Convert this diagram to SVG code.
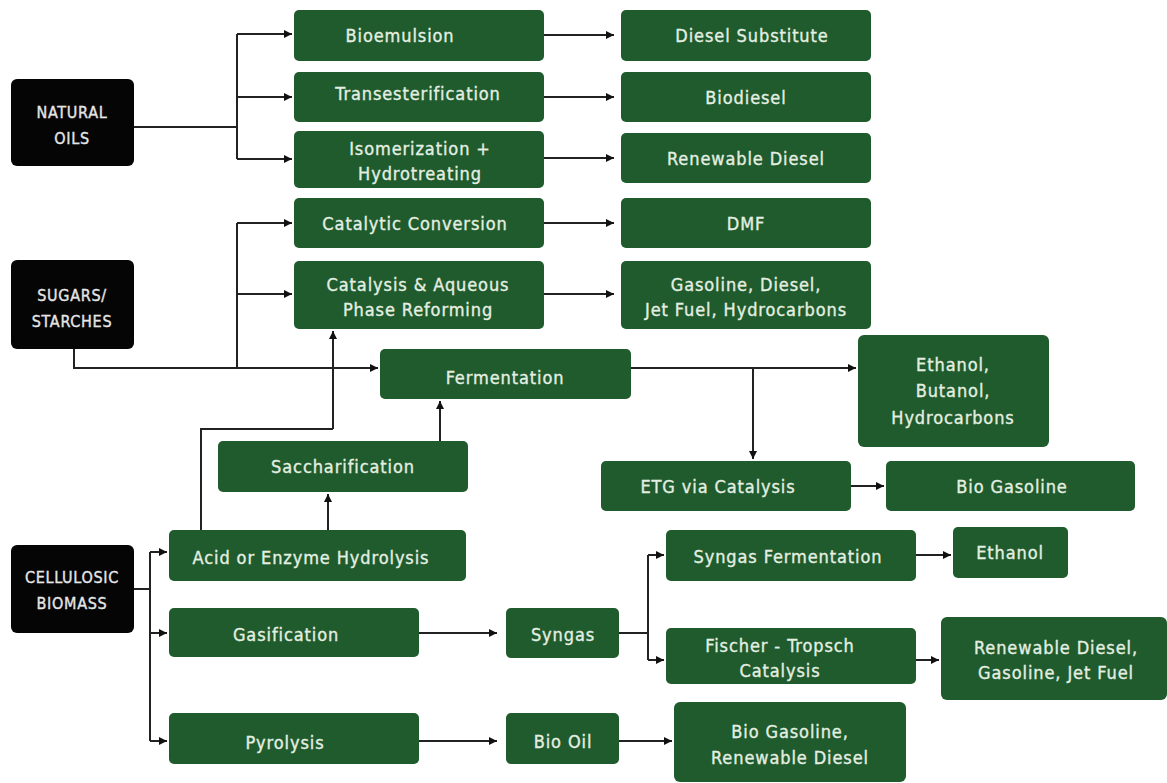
<svg xmlns="http://www.w3.org/2000/svg" width="1167" height="783" viewBox="0 0 1167 783">
<defs>
<marker id="ah" viewBox="0 0 10 10" refX="10" refY="5" markerWidth="8" markerHeight="8" markerUnits="userSpaceOnUse" orient="auto">
<path d="M0,0 L10,5 L0,10 z" fill="#111"/>
</marker>
<style>
.g{fill:#1f5b2c}
.k{fill:#050505}
.t{font-family:"DejaVu Sans Condensed","Liberation Sans Narrow","Liberation Sans",sans-serif;font-size:18px;font-weight:normal;fill:#e4efe2;text-anchor:middle;stroke:#e4efe2;stroke-width:0.35;letter-spacing:0.9px}
.tk{font-family:"DejaVu Sans Condensed","Liberation Sans Narrow","Liberation Sans",sans-serif;font-size:16px;font-weight:normal;fill:#e6e6e6;text-anchor:middle;stroke:#e6e6e6;stroke-width:0.35;letter-spacing:0.7px}
.c{fill:none;stroke:#222;stroke-width:2}
.a{fill:none;stroke:#222;stroke-width:2;marker-end:url(#ah)}
</style>
</defs>
<rect width="1167" height="783" fill="#fff"/>

<g id="connectors">
<path class="c" d="M134,127 H237"/>
<path class="c" d="M237,34 V159"/>
<path class="a" d="M237,34 H292"/>
<path class="a" d="M237,97 H292"/>
<path class="a" d="M237,159 H292"/>
<path class="a" d="M544,35 H614"/>
<path class="a" d="M544,97 H614"/>
<path class="a" d="M544,158 H614"/>
<path class="a" d="M544,223 H614"/>
<path class="a" d="M544,294 H614"/>
<path class="c" d="M74,349 V368 H237"/>
<path class="a" d="M237,368 H378"/>
<path class="c" d="M237,368 V223"/>
<path class="a" d="M237,223 H292"/>
<path class="a" d="M237,294 H292"/>
<path class="a" d="M631,368 H856"/>
<path class="a" d="M753,368 V459"/>
<path class="a" d="M851,486 H884"/>
<path class="c" d="M134,589 H150"/>
<path class="c" d="M150,552 V741"/>
<path class="a" d="M150,552 H167"/>
<path class="a" d="M150,633 H167"/>
<path class="a" d="M150,741 H167"/>
<path class="c" d="M201,530 V429 H333"/>
<path class="a" d="M333,429 V331"/>
<path class="a" d="M328,530 V494"/>
<path class="a" d="M440,441 V401"/>
<path class="a" d="M419,633 H497"/>
<path class="a" d="M419,741 H497"/>
<path class="c" d="M619,633 H648"/>
<path class="c" d="M648,555 V660"/>
<path class="a" d="M648,555 H664"/>
<path class="a" d="M648,660 H664"/>
<path class="a" d="M916,555 H951"/>
<path class="a" d="M916,660 H939"/>
<path class="a" d="M619,741 H672"/>
</g>

<g id="natural-oils"><rect class="k" x="11" y="79" width="123" height="87" rx="6"/><text class="tk" x="72" y="118">NATURAL</text><text class="tk" x="72" y="144">OILS</text></g>
<g id="sugars"><rect class="k" x="11" y="260" width="123" height="89" rx="6"/><text class="tk" x="72" y="301">SUGARS/</text><text class="tk" x="72" y="327">STARCHES</text></g>
<g id="cellulosic"><rect class="k" x="11" y="545" width="123" height="88" rx="6"/><text class="tk" x="72" y="583">CELLULOSIC</text><text class="tk" x="72" y="609">BIOMASS</text></g>

<g id="bioemulsion"><rect class="g" x="294" y="10" width="250" height="51" rx="5"/><text class="t" x="400" y="42">Bioemulsion</text></g>
<g id="transesterification"><rect class="g" x="294" y="72" width="250" height="50" rx="5"/><text class="t" x="418" y="100">Transesterification</text></g>
<g id="isomerization"><rect class="g" x="294" y="131" width="250" height="57" rx="5"/><text class="t" x="420" y="155">Isomerization +</text><text class="t" x="420" y="180">Hydrotreating</text></g>
<g id="catalytic-conversion"><rect class="g" x="294" y="198" width="250" height="50" rx="5"/><text class="t" x="415" y="230">Catalytic Conversion</text></g>
<g id="catalysis-aqueous"><rect class="g" x="294" y="261" width="250" height="68" rx="5"/><text class="t" x="418" y="291">Catalysis &amp; Aqueous</text><text class="t" x="418" y="316">Phase Reforming</text></g>

<g id="diesel-substitute"><rect class="g" x="621" y="10" width="250" height="51" rx="5"/><text class="t" x="752" y="42">Diesel Substitute</text></g>
<g id="biodiesel"><rect class="g" x="621" y="72" width="250" height="50" rx="5"/><text class="t" x="746" y="104">Biodiesel</text></g>
<g id="renewable-diesel"><rect class="g" x="621" y="133" width="250" height="50" rx="5"/><text class="t" x="746" y="165">Renewable Diesel</text></g>
<g id="dmf"><rect class="g" x="621" y="198" width="250" height="50" rx="5"/><text class="t" x="746" y="230">DMF</text></g>
<g id="gasoline-diesel-jet"><rect class="g" x="621" y="261" width="250" height="68" rx="5"/><text class="t" x="746" y="291">Gasoline, Diesel,</text><text class="t" x="746" y="316">Jet Fuel, Hydrocarbons</text></g>

<g id="fermentation"><rect class="g" x="380" y="349" width="251" height="50" rx="5"/><text class="t" x="505" y="384">Fermentation</text></g>
<g id="ethanol-butanol"><rect class="g" x="858" y="335" width="191" height="112" rx="6"/><text class="t" x="953" y="371">Ethanol,</text><text class="t" x="953" y="397">Butanol,</text><text class="t" x="953" y="424">Hydrocarbons</text></g>
<g id="saccharification"><rect class="g" x="218" y="441" width="250" height="51" rx="5"/><text class="t" x="343" y="473">Saccharification</text></g>
<g id="etg"><rect class="g" x="601" y="461" width="250" height="50" rx="5"/><text class="t" x="718" y="493">ETG via Catalysis</text></g>
<g id="bio-gasoline"><rect class="g" x="886" y="461" width="249" height="50" rx="5"/><text class="t" x="1012" y="493">Bio Gasoline</text></g>

<g id="hydrolysis"><rect class="g" x="169" y="530" width="297" height="51" rx="5"/><text class="t" x="311" y="564">Acid or Enzyme Hydrolysis</text></g>
<g id="gasification"><rect class="g" x="169" y="608" width="250" height="49" rx="5"/><text class="t" x="286" y="641">Gasification</text></g>
<g id="pyrolysis"><rect class="g" x="169" y="713" width="250" height="51" rx="5"/><text class="t" x="285" y="749">Pyrolysis</text></g>
<g id="syngas"><rect class="g" x="506" y="608" width="113" height="50" rx="5"/><text class="t" x="563" y="641">Syngas</text></g>
<g id="bio-oil"><rect class="g" x="506" y="713" width="113" height="51" rx="5"/><text class="t" x="563" y="748">Bio Oil</text></g>
<g id="syngas-fermentation"><rect class="g" x="666" y="530" width="250" height="51" rx="5"/><text class="t" x="788" y="563">Syngas Fermentation</text></g>
<g id="ethanol"><rect class="g" x="953" y="527" width="115" height="51" rx="5"/><text class="t" x="1010" y="559">Ethanol</text></g>
<g id="fischer-tropsch"><rect class="g" x="666" y="628" width="250" height="56" rx="5"/><text class="t" x="780" y="652">Fischer - Tropsch</text><text class="t" x="780" y="677">Catalysis</text></g>
<g id="renewable-gasoline-jet"><rect class="g" x="941" y="617" width="226" height="83" rx="6"/><text class="t" x="1056" y="654">Renewable Diesel,</text><text class="t" x="1056" y="679">Gasoline, Jet Fuel</text></g>
<g id="bio-gasoline-renewable"><rect class="g" x="674" y="702" width="232" height="80" rx="6"/><text class="t" x="790" y="738">Bio Gasoline,</text><text class="t" x="790" y="764">Renewable Diesel</text></g>
</svg>
